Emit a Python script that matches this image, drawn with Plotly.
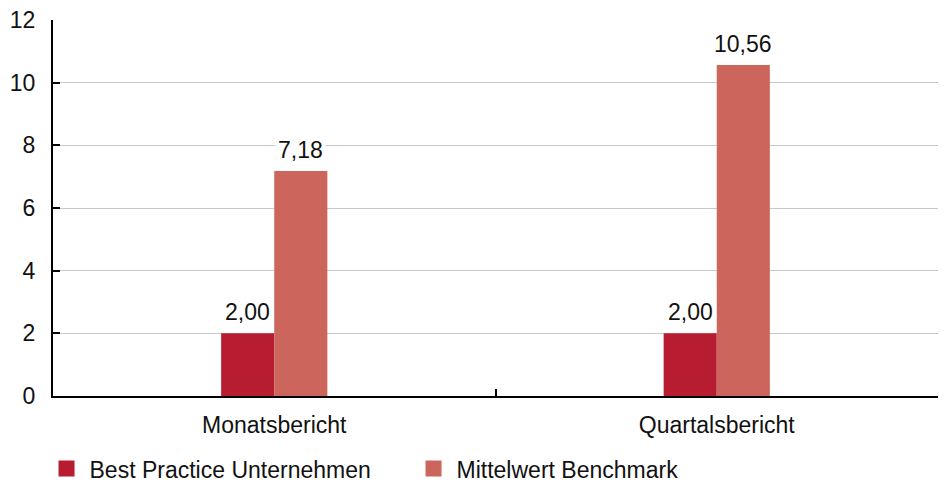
import plotly.graph_objects as go

categories = ["Monatsbericht", "Quartalsbericht"]
series_names = ["Best Practice Unternehmen", "Mittelwert Benchmark"]
best_practice = [2.00, 2.00]
benchmark = [7.18, 10.56]
colors = ["#B81C30", "#CC665C"]
y_ticks = [0, 2, 4, 6, 8, 10, 12]

FONT = "Liberation Sans, Arial, sans-serif"
FS = 23

fig = go.Figure()
values = [best_practice, benchmark]
for name, vals, col in zip(series_names, values, colors):
    fig.add_trace(go.Bar(x=categories, y=vals, name=name, marker_color=col,
                         marker_line_width=0, showlegend=False))
# legend proxies (larger squares)
for name, col in zip(series_names, colors):
    fig.add_trace(go.Scatter(x=[None], y=[None], mode="markers", name=name,
                             marker=dict(symbol="square", size=16, color=col)))

# value labels
bar_px = 53
for si, vals in enumerate(values):
    shift = (-0.5 if si == 0 else 0.5) * bar_px
    for c, v in zip(categories, vals):
        fig.add_annotation(x=c, y=v, xref="x", yref="y",
                           text=f"{v:.2f}".replace(".", ","),
                           showarrow=False, yanchor="bottom", xshift=shift,
                           yshift=5, bgcolor="white", borderpad=2,
                           font=dict(family=FONT, size=FS, color="#111"))

fig.update_layout(
    width=947, height=482,
    margin=dict(l=53, r=9, t=20, b=86, autoexpand=False),
    paper_bgcolor="white", plot_bgcolor="white",
    barmode="group", bargap=0.76, bargroupgap=0,
    separators=",.",
    font=dict(family=FONT, size=FS, color="#111"),
    legend=dict(orientation="h", xref="paper", yref="paper",
                x=-0.0107, y=-0.136, xanchor="left", yanchor="top",
                entrywidth=316, entrywidthmode="pixels", itemwidth=36,
                font=dict(family=FONT, size=FS, color="#111"),
                itemsizing="trace"),
)
fig.update_xaxes(type="category", showline=True, linecolor="#000", linewidth=2,
                 ticks="inside", tickson="boundaries", ticklen=7, tickwidth=1.5,
                 tickcolor="#000", showgrid=False, ticklabelstandoff=7,
                 tickfont=dict(family=FONT, size=FS, color="#111"))
fig.update_yaxes(range=[0, 12], tickvals=y_ticks, showline=True, linecolor="#000",
                 linewidth=2, ticks="inside", ticklen=7, tickwidth=1.5,
                 tickcolor="#000", showgrid=True, gridcolor="#C8C8C8", gridwidth=1,
                 zeroline=False, ticklabelstandoff=11,
                 tickfont=dict(family=FONT, size=FS, color="#111"))

fig.write_html("out.html")
